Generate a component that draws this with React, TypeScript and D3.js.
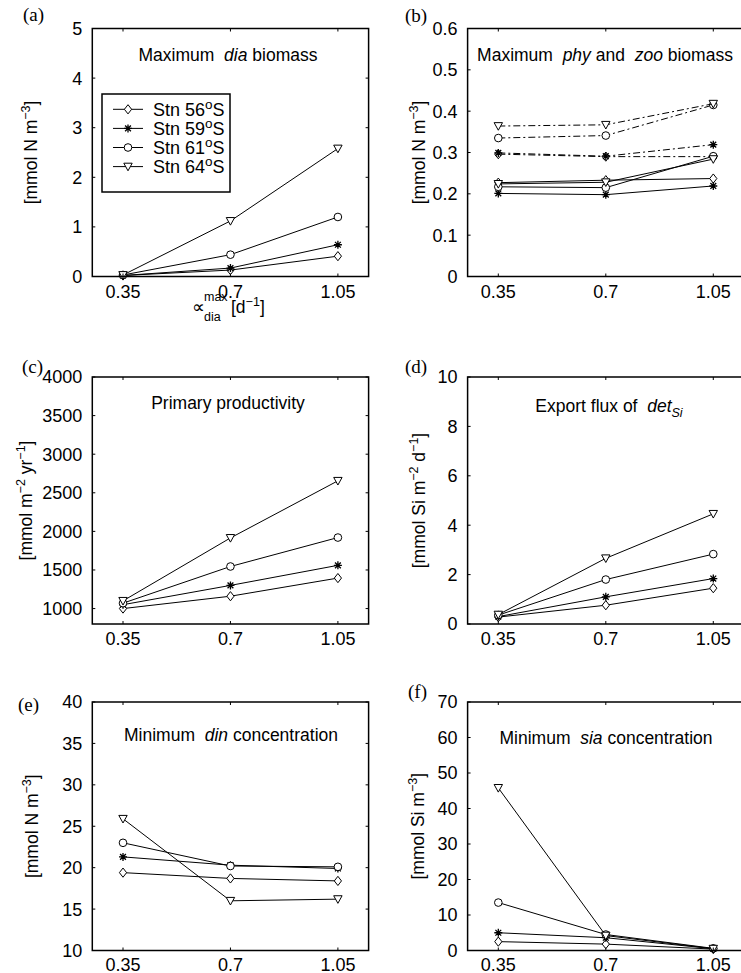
import React, { useEffect, useRef } from "react";
import * as d3 from "d3";

// x values (max diatom growth rate, d^-1)
const xValues = [0.35, 0.7, 1.05];
const stations = ["56", "59", "61", "64"];

// rows: Stn 56S, 59S, 61S, 64S
const diaBiomass = [
  [0.02, 0.13, 0.41],
  [0.02, 0.17, 0.64],
  [0.03, 0.44, 1.2],
  [0.03, 1.12, 2.58],
];
const phyBiomass = [
  [0.227, 0.233, 0.237],
  [0.201, 0.198, 0.219],
  [0.217, 0.215, 0.291],
  [0.224, 0.228, 0.284],
];
const zooBiomass = [
  [0.296, 0.29, 0.29],
  [0.299, 0.291, 0.319],
  [0.335, 0.341, 0.415],
  [0.364, 0.367, 0.418],
];
const primaryProd = [
  [1000, 1160, 1395],
  [1050, 1300, 1560],
  [1070, 1545, 1920],
  [1100, 1915, 2655],
];
const exportFlux = [
  [0.28, 0.76, 1.45],
  [0.3, 1.1, 1.84],
  [0.36, 1.8, 2.83],
  [0.38, 2.66, 4.46],
];
const minDin = [
  [19.4, 18.7, 18.4],
  [21.3, 20.3, 19.9],
  [23.0, 20.2, 20.1],
  [25.9, 16.0, 16.2],
];
const minSia = [
  [2.5, 1.8, 0.4],
  [5.0, 3.6, 0.5],
  [13.5, 4.5, 0.6],
  [45.8, 4.2, 0.5],
];

// tick labels
const ticksA = ["0", "1", "2", "3", "4", "5"];
const ticksB = ["0", "0.1", "0.2", "0.3", "0.4", "0.5", "0.6"];
const ticksC = ["1000", "1500", "2000", "2500", "3000", "3500", "4000"];
const ticksD = ["0", "2", "4", "6", "8", "10"];
const ticksE = ["10", "15", "20", "25", "30", "35", "40"];
const ticksF = ["0", "10", "20", "30", "40", "50", "60", "70"];
const xTickLabels = ["0.35", "0.7", "1.05"];

const FONT = "'Liberation Sans', Arial, Helvetica, sans-serif";
const SERIF = "'Liberation Serif', 'Times New Roman', serif";

type Part = { t: string; sup?: boolean; sub?: boolean; it?: boolean };

// append text pieces with super/subscripts
function rich(sel: any, parts: Part[], small = 12.5) {
  let shift = 0;
  parts.forEach((p) => {
    const ts = sel.append("tspan").text(p.t);
    let target = 0;
    if (p.sup) target = -7;
    if (p.sub) target = 5;
    if (p.sup || p.sub) ts.attr("font-size", small);
    if (p.it) ts.attr("font-style", "italic");
    ts.attr("dy", target - shift);
    shift = target;
  });
}

function markerPath(i: number) {
  if (i === 0) return "M0,-4.6L3.6,0L0,4.6L-3.6,0Z";
  if (i === 1) return "M-4,0H4M0,-4V4M-2.9,-2.9L2.9,2.9M-2.9,2.9L2.9,-2.9";
  if (i === 2) return d3.symbol().type(d3.symbolCircle).size(46)()!;
  return "M-4.2,-3.4L4.2,-3.4L0,4.2Z";
}

const App = () => {
  const svgRef = useRef<SVGSVGElement>(null);

  useEffect(() => {
    const svg = d3.select(svgRef.current);
    svg.selectAll("*").remove();

    const cols = [
      { l: 92.3, r: 368.6 },
      { l: 467.6, r: 744 },
    ];
    const rows = [
      { t: 28.5, b: 276.5 },
      { t: 377, b: 624 },
      { t: 702, b: 950.5 },
    ];

    const panels = [
      {
        col: 0, row: 0, letter: "(a)", lx: 23, ly: 21,
        domain: [0, 5], ticks: ticksA, series: [diaBiomass], dashes: [null],
        title: [{ t: "Maximum  " }, { t: "dia", it: true }, { t: " biomass" }] as Part[],
        tx: 228, ty: 61,
        ylab: [{ t: "[mmol N m" }, { t: "\u22123", sup: true }, { t: "]" }] as Part[], yx: 37,
      },
      {
        col: 1, row: 0, letter: "(b)", lx: 405, ly: 22,
        domain: [0, 0.6], ticks: ticksB, series: [zooBiomass, phyBiomass], dashes: ["7,3,2,3", null],
        title: [{ t: "Maximum  " }, { t: "phy", it: true }, { t: " and  " }, { t: "zoo", it: true }, { t: " biomass" }] as Part[],
        tx: 605, ty: 61,
        ylab: [{ t: "[mmol N m" }, { t: "\u22123", sup: true }, { t: "]" }] as Part[], yx: 424.5,
      },
      {
        col: 0, row: 1, letter: "(c)", lx: 22, ly: 373,
        domain: [800, 4000], ticks: ticksC, series: [primaryProd], dashes: [null],
        title: [{ t: "Primary productivity" }] as Part[],
        tx: 228, ty: 409,
        ylab: [{ t: "[mmol m" }, { t: "\u22122", sup: true }, { t: " yr" }, { t: "\u22121", sup: true }, { t: "]" }] as Part[], yx: 32,
      },
      {
        col: 1, row: 1, letter: "(d)", lx: 405, ly: 373,
        domain: [0, 10], ticks: ticksD, series: [exportFlux], dashes: [null],
        title: [{ t: "Export flux of  " }, { t: "det", it: true }, { t: "Si", it: true, sub: true }] as Part[],
        tx: 609, ty: 412,
        ylab: [{ t: "[mmol Si m" }, { t: "\u22122", sup: true }, { t: " d" }, { t: "\u22121", sup: true }, { t: "]" }] as Part[], yx: 424.5,
      },
      {
        col: 0, row: 2, letter: "(e)", lx: 18, ly: 711,
        domain: [10, 40], ticks: ticksE, series: [minDin], dashes: [null],
        title: [{ t: "Minimum  " }, { t: "din", it: true }, { t: " concentration" }] as Part[],
        tx: 231, ty: 741,
        ylab: [{ t: "[mmol N m" }, { t: "\u22123", sup: true }, { t: "]" }] as Part[], yx: 38,
      },
      {
        col: 1, row: 2, letter: "(f)", lx: 408, ly: 698,
        domain: [0, 70], ticks: ticksF, series: [minSia], dashes: [null],
        title: [{ t: "Minimum  " }, { t: "sia", it: true }, { t: " concentration" }] as Part[],
        tx: 606, ty: 744,
        ylab: [{ t: "[mmol Si m" }, { t: "\u22123", sup: true }, { t: "]" }] as Part[], yx: 423.5,
      },
    ];

    panels.forEach((p) => {
      const c = cols[p.col];
      const r = rows[p.row];
      const x = d3.scaleLinear().domain([0.25, 1.15]).range([c.l, c.r]);
      const y = d3.scaleLinear().domain(p.domain).range([r.b, r.t]);
      const g = svg.append("g");

      // panel letter
      g.append("text")
        .attr("x", p.lx)
        .attr("y", p.ly)
        .attr("font-family", SERIF)
        .attr("font-size", 19)
        .text(p.letter);

      // series
      const line = d3
        .line<number>()
        .x((_, i) => x(xValues[i]))
        .y((d) => y(d));

      p.series.forEach((set, si) => {
        set.forEach((vals, k) => {
          const path = g
            .append("path")
            .attr("d", line(vals))
            .attr("fill", "none")
            .attr("stroke", "#000")
            .attr("stroke-width", 1);
          if (p.dashes[si]) path.attr("stroke-dasharray", p.dashes[si]);
          vals.forEach((v, i) => {
            g.append("path")
              .attr("d", markerPath(k))
              .attr("transform", `translate(${x(xValues[i])},${y(v)})`)
              .attr("fill", k === 1 ? "none" : "#fff")
              .attr("stroke", "#000")
              .attr("stroke-width", k === 1 ? 1.3 : 1);
          });
        });
      });

      // box
      g.append("rect")
        .attr("x", c.l)
        .attr("y", r.t)
        .attr("width", c.r - c.l)
        .attr("height", r.b - r.t)
        .attr("fill", "none")
        .attr("stroke", "#000")
        .attr("stroke-width", 1.5);

      // x ticks (inward, mirrored)
      xValues.forEach((v, i) => {
        const px = x(v);
        g.append("line").attr("x1", px).attr("x2", px).attr("y1", r.b).attr("y2", r.b - 3).attr("stroke", "#000");
        g.append("line").attr("x1", px).attr("x2", px).attr("y1", r.t).attr("y2", r.t + 3).attr("stroke", "#000");
        g.append("text")
          .attr("x", px)
          .attr("y", r.b + (p.row === 2 ? 20 : 21))
          .attr("text-anchor", "middle")
          .attr("font-family", FONT)
          .attr("font-size", 18)
          .text(xTickLabels[i]);
      });

      // y ticks
      p.ticks.forEach((lab) => {
        const py = y(+lab);
        g.append("line").attr("x1", c.l).attr("x2", c.l + 3).attr("y1", py).attr("y2", py).attr("stroke", "#000");
        g.append("line").attr("x1", c.r).attr("x2", c.r - 3).attr("y1", py).attr("y2", py).attr("stroke", "#000");
        g.append("text")
          .attr("x", c.l - 10)
          .attr("y", py)
          .attr("dy", "0.36em")
          .attr("text-anchor", "end")
          .attr("font-family", FONT)
          .attr("font-size", 18)
          .text(lab);
      });

      // title
      const title = g
        .append("text")
        .attr("x", p.tx)
        .attr("y", p.ty)
        .attr("text-anchor", "middle")
        .attr("font-family", FONT)
        .attr("font-size", 17.5)
        .style("white-space", "pre");
      rich(title, p.title);

      // y label
      const yl = g
        .append("text")
        .attr("transform", `translate(${p.yx},${(r.t + r.b) / 2}) rotate(-90)`)
        .attr("text-anchor", "middle")
        .attr("font-family", FONT)
        .attr("font-size", 17.5);
      rich(yl, p.ylab);
    });

    // x label under (a)
    const xl = svg.append("g").attr("font-family", FONT).attr("font-size", 17.5);
    xl.append("text").attr("x", 192).attr("y", 313).text("\u221D");
    xl.append("text").attr("x", 204).attr("y", 301).attr("font-size", 12.5).text("max");
    xl.append("text").attr("x", 204).attr("y", 321).attr("font-size", 12.5).text("dia");
    const xr = xl.append("text").attr("x", 231).attr("y", 313);
    rich(xr, [{ t: "[d" }, { t: "\u22121", sup: true }, { t: "]" }]);

    // legend in (a)
    const lg = svg.append("g");
    lg.append("rect")
      .attr("x", 102)
      .attr("y", 94)
      .attr("width", 128)
      .attr("height", 98)
      .attr("fill", "#fff")
      .attr("stroke", "#000")
      .attr("stroke-width", 1.5);
    stations.forEach((s, k) => {
      const cy = 109.3 + k * 19.1;
      lg.append("line").attr("x1", 113).attr("x2", 143).attr("y1", cy).attr("y2", cy).attr("stroke", "#000");
      lg.append("path")
        .attr("d", markerPath(k))
        .attr("transform", `translate(128,${cy})`)
        .attr("fill", k === 1 ? "none" : "#fff")
        .attr("stroke", "#000")
        .attr("stroke-width", k === 1 ? 1.3 : 1);
      const t = lg
        .append("text")
        .attr("x", 153)
        .attr("y", cy + 6.5)
        .attr("font-family", FONT)
        .attr("font-size", 18);
      rich(t, [{ t: `Stn ${s}` }, { t: "o", sup: true }, { t: "S" }], 13.5);
    });
  }, []);

  return (
    <svg
      ref={svgRef}
      width={741}
      height={973}
      style={{ position: "absolute", left: 0, top: 0, background: "#fff" }}
    />
  );
};

export default App;
